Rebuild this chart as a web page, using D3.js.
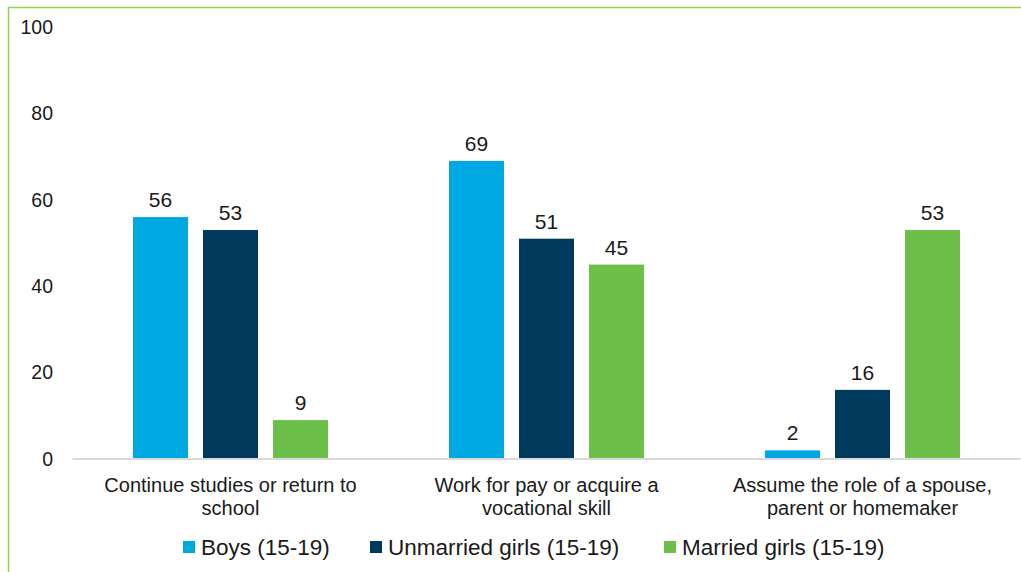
<!DOCTYPE html>
<html>
<head>
<meta charset="utf-8">
<script src="https://cdn.jsdelivr.net/npm/d3@7"></script>
<style>
  body { margin: 0; background: #fff; }
  svg text { font-family: "Liberation Sans", Arial, sans-serif; fill: #1a1a1a; }
</style>
</head>
<body>
<svg id="chart"></svg>
<script>
const categories = [
  ["Continue studies or return to", "school"],
  ["Work for pay or acquire a", "vocational skill"],
  ["Assume the role of a spouse,", "parent or homemaker"]
];
const series = ["Boys (15-19)", "Unmarried girls (15-19)", "Married girls (15-19)"];
const boys = [56, 69, 2];
const unmarried = [53, 51, 16];
const married = [9, 45, 53];
const yTicks = [0, 20, 40, 60, 80, 100];

const colors = ["#00a8e1", "#003a5d", "#6cc04a"];
const values = [boys, unmarried, married];

const w = 1021;
const h = 572;
const plotLeft = 72.5;
const plotRight = 1020.5;
const plotTop = 27;
const plotBottom = 459;

const svg = d3.select("#chart").attr("width", w).attr("height", h);

// frame
svg.append("path")
  .attr("d", `M8.5,${h} V7.5 H${w}`)
  .attr("fill", "none")
  .attr("stroke", "#92d050")
  .attr("stroke-width", 1.5);

const x0 = d3.scaleBand().domain(d3.range(categories.length)).range([plotLeft, plotRight]);
const groupW = 195;
const x1 = d3.scaleBand()
  .domain(d3.range(series.length))
  .range([(x0.bandwidth() - groupW) / 2, (x0.bandwidth() + groupW) / 2])
  .paddingInner(15 / 70);
const y = d3.scaleLinear().domain([0, 100]).range([plotBottom, plotTop]);

// y axis labels
const yAxis = d3.axisLeft(y).tickValues(yTicks).tickSize(0).tickPadding(0);
const gy = svg.append("g").attr("transform", "translate(53,0)").call(yAxis);
gy.select(".domain").remove();
gy.selectAll("text")
  .attr("font-size", 19.5)
  .attr("font-family", "Liberation Sans, Arial, sans-serif")
  .attr("fill", "#1a1a1a");

// bars
const groups = svg.selectAll("g.cat")
  .data(categories)
  .enter()
  .append("g")
  .attr("class", "cat")
  .attr("transform", (d, i) => `translate(${x0(i)},0)`);

groups.each(function (c, ci) {
  const g = d3.select(this);
  series.forEach((s, si) => {
    const v = values[si][ci];
    g.append("rect")
      .attr("x", x1(si))
      .attr("y", y(v))
      .attr("width", x1.bandwidth())
      .attr("height", y(0) - y(v))
      .attr("fill", colors[si]);
    g.append("text")
      .attr("x", x1(si) + x1.bandwidth() / 2)
      .attr("y", y(v) - 10)
      .attr("text-anchor", "middle")
      .attr("font-size", 21)
      .text(v);
  });
  const t = g.append("text")
    .attr("text-anchor", "middle")
    .attr("font-size", 20);
  c.forEach((line, li) => {
    t.append("tspan")
      .attr("x", x0.bandwidth() / 2)
      .attr("y", 492 + li * 23)
      .text(line);
  });
});

// baseline
svg.append("line")
  .attr("x1", plotLeft)
  .attr("x2", plotRight)
  .attr("y1", y(0))
  .attr("y2", y(0))
  .attr("stroke", "#d9d9d9")
  .attr("stroke-width", 2);

// legend
const legendX = [183, 370, 664];
const legend = svg.append("g");
series.forEach((s, i) => {
  legend.append("rect")
    .attr("x", legendX[i])
    .attr("y", 541)
    .attr("width", 12)
    .attr("height", 12)
    .attr("fill", colors[i]);
  legend.append("text")
    .attr("x", legendX[i] + 18)
    .attr("y", 555)
    .attr("font-size", 22.5)
    .text(s);
});
</script>
</body>
</html>
